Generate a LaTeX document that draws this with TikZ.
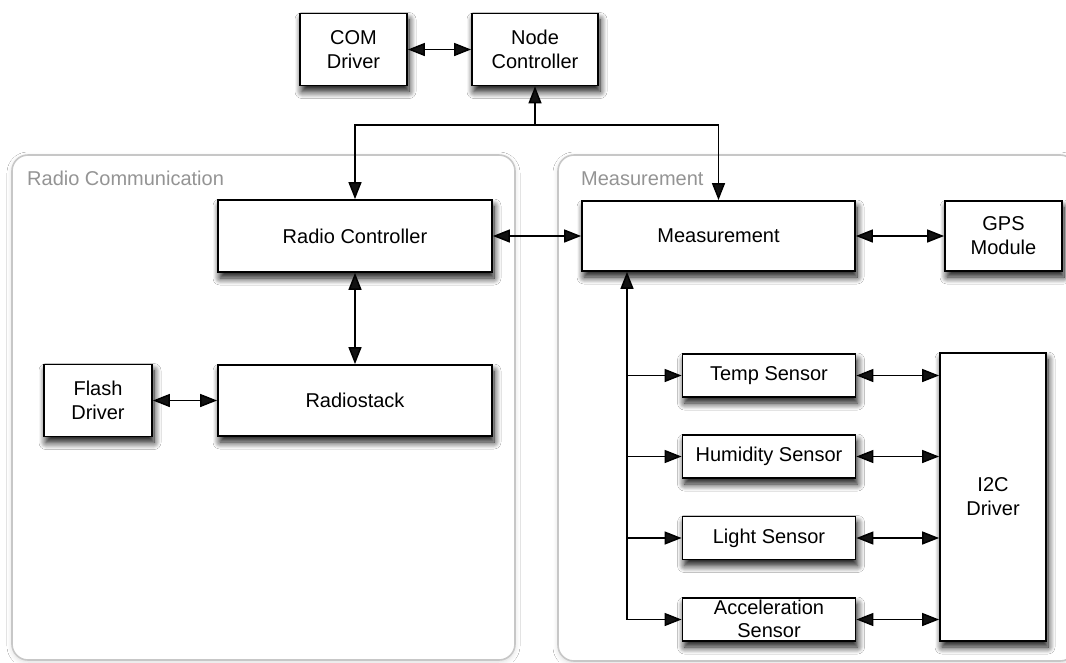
\documentclass[tikz,border=0pt]{standalone}
\usepackage{fontspec}
\setmainfont{Liberation Sans}
\usetikzlibrary{arrows.meta,shadows.blur,calc}

\tikzset{
  box/.style={draw=black, line width=1.8pt, fill=white, inner sep=0pt,
    align=center, font=\fontsize{20}{24}\selectfont,
    blur shadow={shadow xshift=2pt, shadow yshift=-6pt, shadow blur radius=7pt,
      shadow blur steps=10, shadow opacity=95}},
  group/.style={draw=black!22, line width=1.6pt, fill=white, rounded corners=16pt,
    blur shadow={shadow xshift=0pt, shadow yshift=-2pt, shadow blur radius=5pt,
      shadow blur steps=6, shadow opacity=14}},
  grouplabel/.style={text=black!42, inner sep=0pt, font=\fontsize{20}{24}\selectfont},
  tip/.tip={Triangle[length=17pt,width=13pt]},
  arr/.style={line width=1.5pt, -tip},
  biarr/.style={line width=1.5pt, tip-tip},
}

\begin{document}
\begin{tikzpicture}[x=1pt,y=-1pt]
\useasboundingbox (0,0) rectangle (1066,662);
\fill[white] (0,0) rectangle (1066,662);

% subsystem frames
\draw[group] (12,155) rectangle (515,660);
\node[grouplabel, anchor=base west] (radiolbl) at (27,185) {Radio Communication};
\draw[group] (558,155) rectangle (1076,661);
\node[grouplabel, anchor=base west] (measlbl) at (581,185) {Measurement};

% top level
\node[box, minimum width=107pt, minimum height=72pt] (com) at (353.5,49.5) {COM\\Driver};
\node[box, minimum width=126pt, minimum height=72pt] (nodectl) at (535,49.5) {Node\\Controller};

% radio communication
\node[box, minimum width=274pt, minimum height=72pt] (radioctl) at (355,236) {Radio Controller};
\node[box, minimum width=274pt, minimum height=71pt] (radiostack) at (355,400.5) {Radiostack};
\node[box, minimum width=108pt, minimum height=72pt] (flash) at (98,400.5) {Flash\\Driver};

% measurement
\node[box, minimum width=273pt, minimum height=70pt] (meas) at (718.5,236) {Measurement};
\node[box, minimum width=117pt, minimum height=70pt] (gps) at (1003.5,236) {GPS\\Module};
\node[box, minimum width=173pt, minimum height=43pt] (temp) at (769,375.5) {Temp Sensor};
\node[box, minimum width=173pt, minimum height=43pt] (hum) at (769,456.5) {Humidity Sensor};
\node[box, minimum width=173pt, minimum height=43pt] (light) at (769,538) {Light Sensor};
\node[box, minimum width=173pt, minimum height=43pt] (acc) at (769,619.5) {};
\node[align=center, inner sep=0pt, font=\fontsize{20}{23.5}\selectfont] (acctext) at (769,619) {Acceleration\\Sensor};
\node[box, minimum width=106pt, minimum height=288pt] (i2c) at (993,497) {I2C\\Driver};

% connectors
\coordinate (split) at (535,125);
\coordinate (bus) at (627,0);
\draw[biarr] (com) -- (nodectl);
\draw[arr] (split) -- (nodectl.south);
\draw[arr] (split) -| (radioctl.north);
\draw[arr] (split) -| (meas.north);
\draw[biarr] (radioctl) -- (meas);
\draw[biarr] (meas) -- (gps);
\draw[biarr] (radioctl) -- (radiostack);
\draw[biarr] (flash) -- (radiostack);

\draw[arr] (bus |- acc.west) -- (bus |- meas.south);
\foreach \s in {temp,hum,light,acc}{
  \draw[arr] (bus |- \s.west) -- (\s.west);
  \draw[biarr] (\s.east) -- (\s.east -| i2c.west);
}
\end{tikzpicture}
\end{document}
